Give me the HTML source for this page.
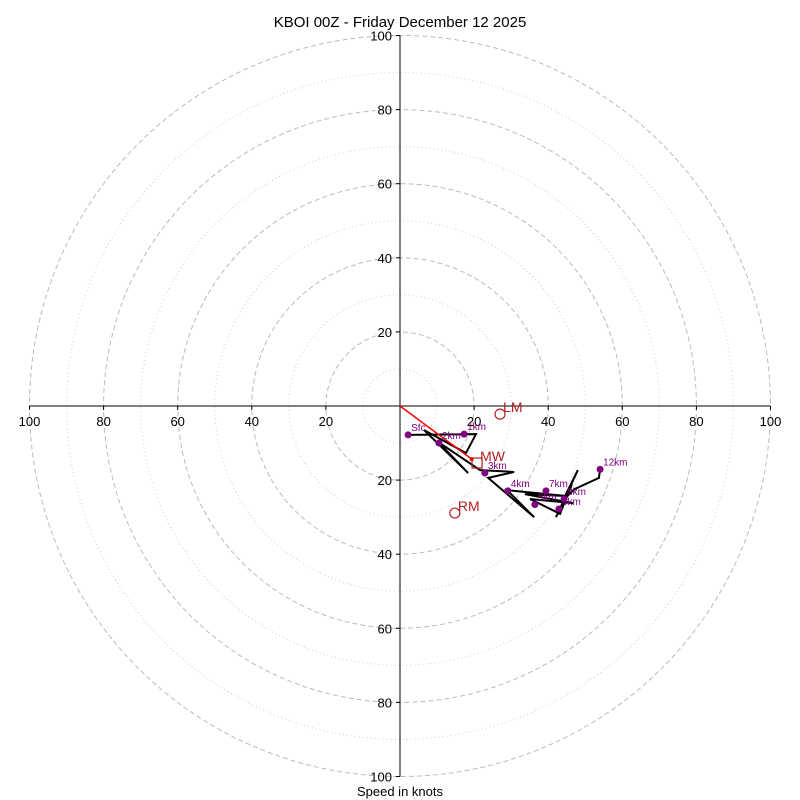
<!DOCTYPE html>
<html><head><meta charset="utf-8"><style>
body{margin:0;background:#fff;}
svg{display:block;font-family:"Liberation Sans","DejaVu Sans",sans-serif;}
</style></head><body>
<svg id="chart" width="800" height="800" viewBox="0 0 800 800">
<text x="400" y="27" text-anchor="middle" font-size="15" fill="#000">KBOI 00Z - Friday December 12 2025</text>
<text x="400" y="796" text-anchor="middle" font-size="13" fill="#000">Speed in knots</text>
<g id="rings"></g><g id="axes"></g><g id="series"></g>
</svg>
<script>
const ringMajor=[20,40,60,80,100];
const ringMinor=[10,30,50,70,90];
const tickLabels=["100","80","60","40","20","20","40","60","80","100"];
const tickValues=[-100,-80,-60,-40,-20,20,40,60,80,100];
const pathU=[2.2,20.5,17.8,6.5,18.4,10.3,21.6,30.8,23.8,36.2,28.9,44.8,33.7,46.7,35.1,43.2,46.4,42.1,48.0,44.0,47.2,53.7,54.0];
const pathV=[-7.8,-7.6,-12.7,-6.5,-18.1,-9.7,-17.3,-17.8,-19.4,-30.0,-22.7,-24.3,-23.8,-26.2,-25.1,-29.1,-21.1,-30.0,-17.3,-25.4,-22.4,-19.4,-17.0];
const levelNames=["Sfc","1km","2km","3km","4km","5km","6km","7km","8km","12km"];
const levelU=[2.2,17.3,10.5,22.9,29.1,36.4,42.9,39.4,44.3,54.0];
const levelV=[-7.8,-7.6,-10.0,-18.1,-22.9,-26.6,-27.8,-22.9,-25.1,-17.1];
const motionNames=["LM","MW","RM"];
const motionU=[27.0,20.8,14.8];
const motionV=[-2.2,-15.4,-28.9];
const cx=400,cy=406,k=3.705;
const X=u=>cx+u*k, Y=v=>cy-v*k, R=s=>s*k;
const NS="http://www.w3.org/2000/svg";
function mk(tag,attrs,parent,txt){const e=document.createElementNS(NS,tag);for(const a in attrs)e.setAttribute(a,attrs[a]);if(txt!==undefined)e.textContent=txt;document.getElementById(parent).appendChild(e);return e;}
ringMinor.forEach(s=>{const e=mk('circle',{cx:cx,cy:cy,r:R(s),fill:'none',stroke:'#ccc','stroke-width':1,'stroke-dasharray':'1,3'},'rings');

});
ringMajor.forEach(s=>{const e=mk('circle',{cx:cx,cy:cy,r:R(s),fill:'none',stroke:'#bbb','stroke-width':1,'stroke-dasharray':'5,3'},'rings');

});
let a=mk('line',{x1:X(-100),y1:cy,x2:X(100),y2:cy,stroke:'#000','stroke-width':1},'axes');


a=mk('line',{x1:cx,y1:Y(100),x2:cx,y2:Y(-100),stroke:'#000','stroke-width':1},'axes');


tickValues.forEach((t,i)=>{
 mk('line',{x1:X(t),y1:cy,x2:X(t),y2:cy+4,stroke:'#000'},'axes');
 const tx=mk('text',{x:X(t),y:cy+20,'text-anchor':'middle','font-size':13},'axes',tickLabels[i]);
 
 
 mk('line',{x1:cx-4,y1:Y(t),x2:cx,y2:Y(t),stroke:'#000'},'axes');
 const ty=mk('text',{x:cx-8,y:Y(t)+5,'text-anchor':'end','font-size':13},'axes',tickLabels[tickLabels.length-1-i]);
 
 
});
const pts=pathU.map((u,i)=>X(u)+','+Y(pathV[i])).join(' ');
const pl=mk('polyline',{points:pts,fill:'none',stroke:'#000','stroke-width':2},'series');


const mwx=X(motionU[1]),mwy=Y(motionV[1]);
const ex=cx+(mwx-cx)*0.93,ey=cy+(mwy-cy)*0.93;
const rl=mk('line',{x1:cx,y1:cy,x2:ex,y2:ey,stroke:'#f00','stroke-width':1.5},'series');


mk('circle',{cx:ex,cy:ey,r:2,fill:'#f00'},'series');
levelNames.forEach((n,i)=>{
 const d=mk('circle',{cx:X(levelU[i]),cy:Y(levelV[i]),r:3.5,fill:'#800080'},'series');
 
 
 const t=mk('text',{x:X(levelU[i])+3,y:Y(levelV[i])-4,'font-size':10,fill:'#800080'},'series',n);
 
 
});
motionNames.forEach((n,i)=>{
 const x=X(motionU[i]),y=Y(motionV[i]);
 let m;
 if(n==='MW') m=mk('rect',{x:x-5,y:y-5,width:10,height:10,fill:'none',stroke:'#b22222','stroke-width':1.2},'series');
 else m=mk('circle',{cx:x,cy:y,r:5,fill:'none',stroke:'#b22222','stroke-width':1.2},'series');
 
 
 const t=mk('text',{x:x+3,y:y-2,'font-size':14,fill:'#b22222'},'series',n);
 
 
});
</script>
</body></html>
